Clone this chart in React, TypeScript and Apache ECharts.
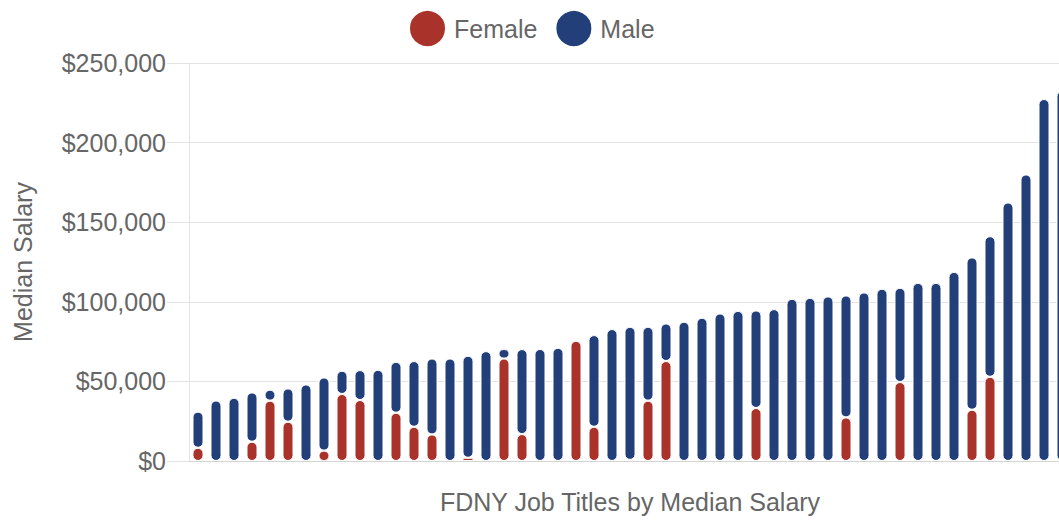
import React, { useEffect, useRef } from "react";
import * as echarts from "echarts";

const categories: string[] = [
  "1", "2", "3", "4", "5", "6", "7", "8", "9", "10",
  "11", "12", "13", "14", "15", "16", "17", "18", "19", "20",
  "21", "22", "23", "24", "25", "26", "27", "28", "29", "30",
  "31", "32", "33", "34", "35", "36", "37", "38", "39", "40",
  "41", "42", "43", "44", "45", "46", "47", "48", "49",
];

const femaleValues: (number | null)[] = [
  8300, null, null, 12100, 37900, 24700, null, 6500, 42100, 38300,
  null, 30300, 21500, 16700, null, 2000, null, 64400, 16900, null,
  null, 75500, 21500, null, 700, 37900, 62800, null, null, null,
  null, 33300, null, null, null, null, 27400, null, null, 49600,
  null, null, null, 32200, 52900, null, null, null, null,
];

const maleValues: (number | null)[] = [
  22700, 38000, 39700, 31000, 6900, 20900, 48100, 46000, 14600, 18800,
  57300, 32000, 41300, 47700, 64400, 64100, 69000, 5900, 53400, 70400,
  71100, null, 57600, 82900, 83600, 46400, 23600, 87500, 90000, 92700,
  94300, 61300, 95400, 101900, 102500, 103400, 76600, 105900, 108200, 59200,
  111900, 111900, 118800, 95700, 88300, 162400, 180000, 227400, 232500,
];

const yTicks = { min: 0, max: 250000, interval: 50000 };

const FONT = '"Liberation Sans", Arial, Helvetica, sans-serif';
const TEXT = "#666666";
const RED = "#a9322a";
const BLUE = "#223f7a";

export default function App() {
  const ref = useRef<HTMLDivElement>(null);
  useEffect(() => {
    if (!ref.current) return;
    const chart = echarts.init(ref.current, null, { renderer: "svg" });
    const barStyle = (color: string) => ({
      color,
      borderColor: "#ffffff",
      borderWidth: 1,
      borderRadius: 5,
    });
    chart.setOption({
      animation: false,
      textStyle: { fontFamily: FONT },
      legend: {
        left: 408,
        top: 9,
        padding: 0,
        itemWidth: 37,
        itemHeight: 37,
        itemGap: 17,
        icon: "circle",
        textStyle: { fontSize: 25, color: TEXT, fontFamily: FONT, padding: [0, 0, 0, 3] },
        data: ["Female", "Male"],
      },
      grid: { left: 189, top: 63, width: 882, height: 398, outerBoundsMode: "none", containLabel: false },
      xAxis: {
        type: "category",
        data: categories,
        name: "FDNY Job Titles by Median Salary",
        nameLocation: "middle",
        nameGap: 28,
        nameTextStyle: { fontSize: 25, color: TEXT, fontFamily: FONT },
        axisLine: { show: true, lineStyle: { color: "#d4d4d4", width: 1 } },
        axisTick: { show: false },
        axisLabel: { show: false },
        splitLine: { show: false },
      },
      yAxis: {
        type: "value",
        min: yTicks.min,
        max: yTicks.max,
        interval: yTicks.interval,
        name: "Median Salary",
        nameLocation: "middle",
        nameGap: 154,
        nameTextStyle: { fontSize: 25, color: TEXT, fontFamily: FONT },
        axisLine: { show: true, lineStyle: { color: "#e3e3e3", width: 1 } },
        axisTick: { show: true, length: 22, lineStyle: { color: "#e3e3e3", width: 1 } },
        axisLabel: {
          fontSize: 25,
          color: TEXT,
          fontFamily: FONT,
          margin: 23,
          formatter: (v: number) => "$" + v.toLocaleString("en-US"),
        },
        splitLine: { show: true, lineStyle: { color: "#e3e3e3", width: 1 } },
      },
      series: [
        {
          name: "Female",
          type: "bar",
          stack: "salary",
          barWidth: 11,
          data: femaleValues,
          itemStyle: barStyle(RED),
        },
        {
          name: "Male",
          type: "bar",
          stack: "salary",
          barWidth: 11,
          data: maleValues,
          itemStyle: barStyle(BLUE),
        },
      ],
    });
    return () => chart.dispose();
  }, []);
  return (
    <div
      ref={ref}
      style={{ position: "absolute", left: 0, top: 0, width: 1059, height: 522 }}
    />
  );
}
